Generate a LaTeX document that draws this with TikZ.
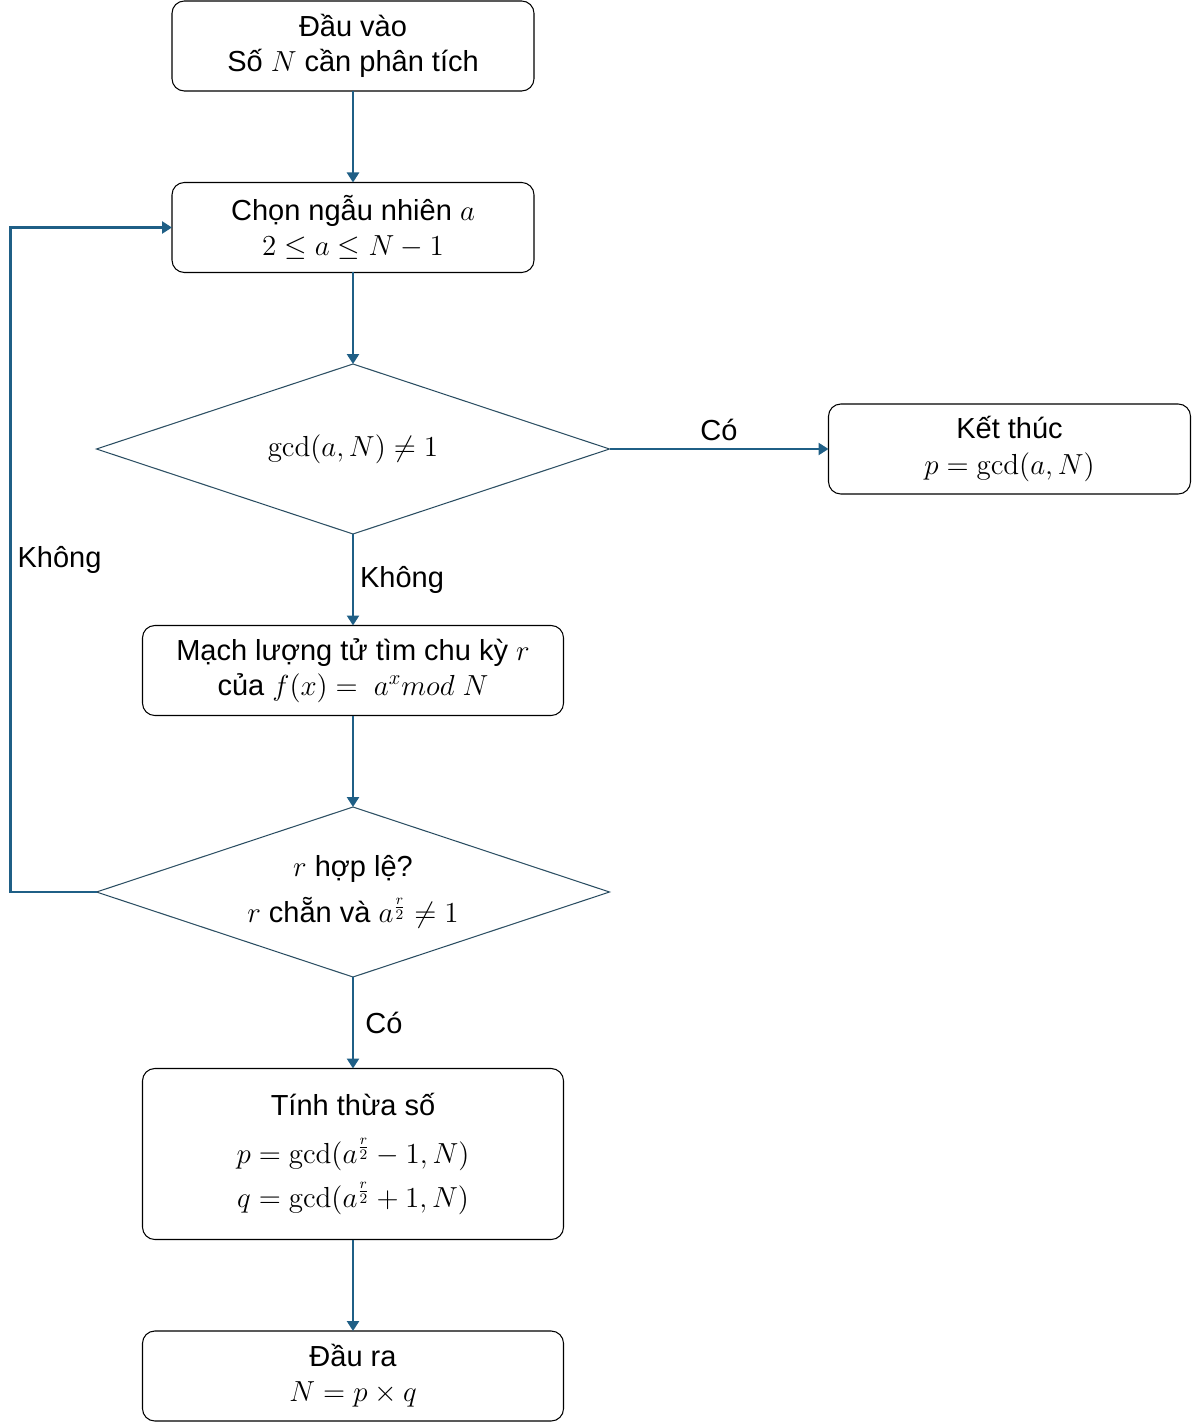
\documentclass[tikz,border=0pt]{standalone}
\usepackage{fix-cm}
\usepackage[no-math]{fontspec}
\setmainfont{Liberation Sans}
\usepackage{tikz}
\usepackage{xcolor}
\usetikzlibrary{shapes.geometric, arrows.meta, positioning, calc}
\definecolor{flowblue}{HTML}{1F5F86}
\definecolor{decisionedge}{HTML}{2C4F63}

\begin{document}
\begin{tikzpicture}[
    % Box and decision styles
    stepbox/.style={rectangle, draw=black, line width=0.6pt, outer sep=0pt, rounded corners=7pt, minimum width=7.24cm, minimum height=1.8cm, align=center, inner sep=2pt, font=\fontsize{16.5}{20}\selectfont},
    widebox/.style={stepbox, minimum width=8.42cm},
    decision/.style={diamond, draw=decisionedge, line width=0.6pt, outer sep=0pt, aspect=3.02, minimum width=10.26cm, minimum height=3.4cm, inner sep=0pt, align=center, font=\fontsize{16.5}{20}\selectfont},
    % Arrow styles
    flowarrow/.style={-{Triangle[length=2mm, width=2.4mm]}, line width=1.4pt, draw=flowblue},
    flowlabel/.style={font=\fontsize{16.5}{20}\selectfont},
    node distance=1.83cm,
]

\useasboundingbox (0,0) rectangle (23.86,-28.44);

% ============================================================================
% MAIN COLUMN
% ============================================================================
\node[stepbox] (input) at (7.06,-0.92) {Đầu vào\\Số $N$ cần phân tích};
\node[stepbox, below=of input] (choose) {Chọn ngẫu nhiên $a$\\$2 \le a \le N-1$};
\node[decision, below=of choose] (gcdtest) {$\gcd(a,N) \neq 1$};
\node[widebox, below=of gcdtest] (quantum) {Mạch lượng tử tìm chu kỳ $r$\\của $f(x) =\ a^{x}mod\ N$};
\node[decision, below=of quantum] (rvalid) {$r$ hợp lệ?\\[6pt]$r$ chẵn và $a^{\frac{r}{2}} \neq 1$};
\node[widebox, minimum height=3.42cm, below=of rvalid] (factors) {Tính thừa số\\[7pt]$p = \gcd\Bigl(a^{\frac{r}{2}} - 1, N\Bigr)$\\[5pt]$q = \gcd(a^{\frac{r}{2}} + 1, N)$};
\node[widebox, below=of factors] (output) {Đầu ra\\$N = p \times q$};

% ============================================================================
% EARLY EXIT
% ============================================================================
\node[stepbox, right=4.38cm of gcdtest] (finish) {Kết thúc\\$p = \gcd(a,N)$};

% Data flow
\draw[flowarrow] (input) -- (choose);
\draw[flowarrow] (choose) -- (gcdtest);
\draw[flowarrow] (gcdtest) -- node[flowlabel, above, inner sep=4pt] {Có} (finish);
\draw[flowarrow] (gcdtest) -- node[flowlabel, right] {Không} (quantum);
\draw[flowarrow] (quantum) -- (rvalid);
\draw[flowarrow] (rvalid) -- node[flowlabel, right, xshift=3pt] {Có} (factors);
\draw[flowarrow] (factors) -- (output);

% Retry loop back to the random choice
\coordinate (loopx) at ([xshift=-1.72cm]rvalid.west);
\draw[flowarrow] (rvalid.west) -- (loopx) |- node[flowlabel, pos=0.25, right] {Không} (choose.west);

\end{tikzpicture}
\end{document}
